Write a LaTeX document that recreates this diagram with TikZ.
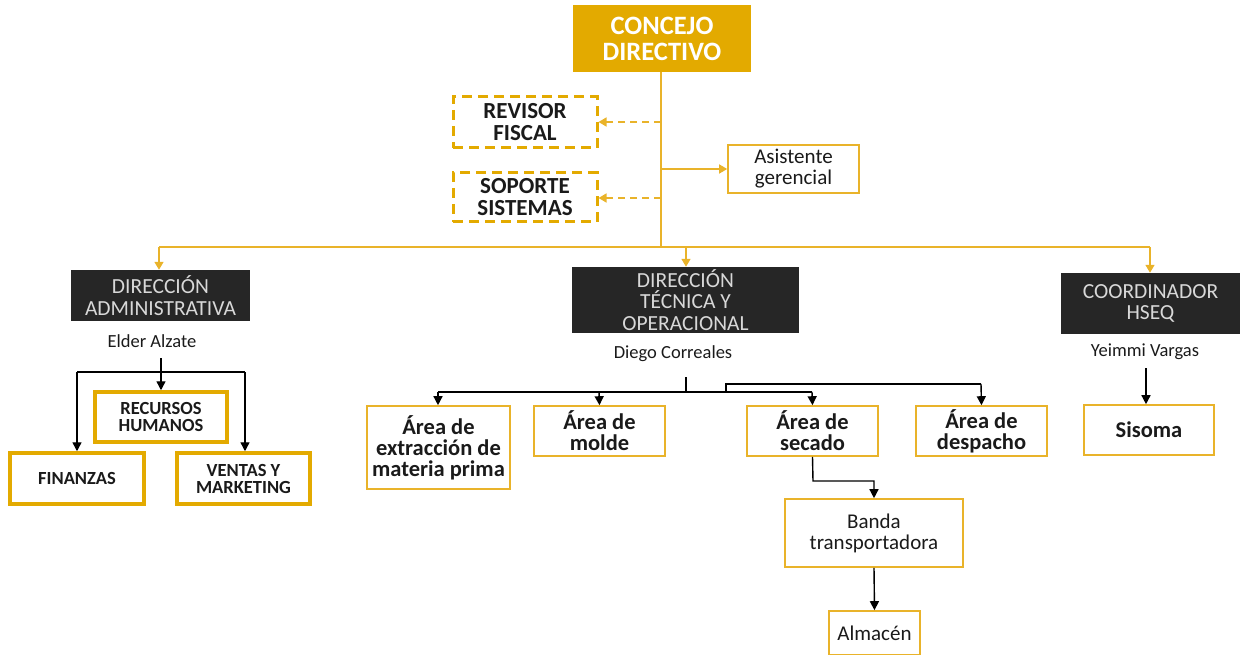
\documentclass[tikz,border=0pt]{standalone}
\usepackage{fontspec}
\setmainfont{Carlito}
\usetikzlibrary{arrows.meta}
\definecolor{gold}{HTML}{E3AA00}
\definecolor{goldln}{HTML}{E9B32A}
\definecolor{darkbox}{HTML}{262626}
\definecolor{lighttxt}{HTML}{D8D8D8}
\definecolor{txt}{HTML}{1A1A1A}
\tikzset{
  box/.style={draw=goldln, line width=1.6pt, fill=white, align=center, inner sep=0pt, text=txt},
  thickbox/.style={draw=gold, line width=3.5pt, fill=white, align=center, inner sep=0pt, text=txt, font=\fontsize{18.5}{17}\selectfont\bfseries},
  dashbox/.style={draw=gold, line width=3pt, dash pattern=on 10pt off 6pt, fill=white, align=center, inner sep=0pt, text=txt, font=\fontsize{23}{22}\selectfont\bfseries},
  darkb/.style={fill=darkbox, draw=none, align=center, inner sep=0pt, text=lighttxt, font=\fontsize{21.5}{21.5}\selectfont},
  area/.style={box, font=\fontsize{22.5}{21}\selectfont\bfseries},
  gline/.style={draw=goldln, line width=1.5pt},
  garrow/.style={gline, -{Triangle[length=8pt,width=9pt]}},
  gdash/.style={gline, dash pattern=on 7pt off 5pt, -{Triangle[length=8pt,width=9pt]}},
  barrow/.style={draw=black, line width=1.4pt, -{Triangle[length=9pt,width=9pt]}},
  bline/.style={draw=black, line width=1.4pt},
  person/.style={text=txt, font=\fontsize{18.5}{20}\selectfont, inner sep=0pt}
}
\begin{document}
\begin{tikzpicture}[x=1pt,y=-1pt]
\useasboundingbox (0,0) rectangle (1240,655);
% top
\node[fill=gold, minimum width=178pt, minimum height=67pt, align=center, inner sep=0pt, text=white, font=\fontsize{26.5}{26}\selectfont\bfseries] (cd) at (662,38.5) {CONCEJO\\DIRECTIVO};
\node[dashbox, minimum width=144pt, minimum height=51pt] (rf) at (525,122.5) {REVISOR\\FISCAL};
\node[dashbox, minimum width=144pt, minimum height=49pt] (ss) at (525,197.5) {SOPORTE\\SISTEMAS};
\node[box, minimum width=131pt, minimum height=48pt, font=\fontsize{21}{21}\selectfont] (ag) at (793.5,169) {Asistente\\gerencial};
\coordinate (t1) at (661,122);
\coordinate (t2) at (661,169);
\coordinate (t3) at (661,198);
\coordinate (hb) at (661,247);
\draw[gline] (cd.south -| hb) -- (hb);
\draw[gdash] (t1) -- (rf.east |- t1);
\draw[gdash] (t3) -- (ss.east |- t3);
\draw[garrow] (t2) -- (ag.west |- t2);
% level 2
\node[darkb, minimum width=179pt, minimum height=51pt] (da) at (160.5,295.5) {DIRECCIÓN\\ADMINISTRATIVA};
\node[darkb, minimum width=227pt, minimum height=66pt] (dt) at (685.5,300) {DIRECCIÓN\\TÉCNICA Y\\OPERACIONAL};
\node[darkb, minimum width=179pt, minimum height=61pt] (ch) at (1150.5,303.5) {COORDINADOR\\HSEQ};
\coordinate (hl) at (159,247);
\coordinate (hr) at (1150,247);
\coordinate (hm) at (686,247);
\draw[gline] (hl) -- (hr);
\draw[garrow] (hl) -- (da.north -| hl);
\draw[garrow] (hm) -- (dt.north -| hm);
\draw[garrow] (hr) -- (ch.north -| hr);
\node[person] (ea) at (152,341) {Elder Alzate};
\node[person] (dc) at (673,354) {Diego Correales};
\node[person] (yv) at (1145,352) {Yeimmi Vargas};
% admin
\node[thickbox, minimum width=132pt, minimum height=50pt] (rh) at (161,417) {RECURSOS\\HUMANOS};
\node[thickbox, minimum width=134pt, minimum height=51pt] (fi) at (77,478.5) {FINANZAS};
\node[thickbox, minimum width=133pt, minimum height=51pt] (vm) at (243.5,478.5) {VENTAS Y\\MARKETING};
\coordinate (a0) at (161,358);
\coordinate (al) at (77,372);
\coordinate (ar) at (245,372);
\draw[barrow] (a0) -- (rh.north);
\draw[bline] (al) -- (ar);
\draw[barrow] (al) -- (al |- fi.north);
\draw[barrow] (ar) -- (ar |- vm.north);
% tecnica
\node[area, minimum width=143pt, minimum height=83pt] (ex) at (438.5,447.5) {Área de\\extracción de\\materia prima};
\node[area, minimum width=131pt, minimum height=50pt] (mo) at (599.5,431) {Área de\\molde};
\node[area, minimum width=131pt, minimum height=50pt] (se) at (812.5,431) {Área de\\secado};
\node[area, minimum width=131pt, minimum height=50pt] (de) at (981.5,431) {Área de\\despacho};
\node[area, minimum width=130pt, minimum height=50pt] (si) at (1149,430) {Sisoma};
\node[box, minimum width=178pt, minimum height=68pt, font=\fontsize{21}{21}\selectfont] (bt) at (874,533) {Banda\\transportadora};
\node[box, minimum width=91pt, minimum height=44pt, font=\fontsize{21}{21}\selectfont] (al2) at (874.5,633) {Almacén};
\coordinate (d0) at (686,377);
\coordinate (d1) at (686,392);
\coordinate (dl) at (438,392);
\coordinate (dr) at (812,392);
\coordinate (dk) at (726,392);
\coordinate (dk2) at (726,384);
\coordinate (du) at (981,384);
\draw[bline] (d0) -- (d1);
\draw[bline] (dl) -- (dr);
\draw[bline] (dk) -- (dk2) -- (du);
\draw[barrow] (dl) -- (dl |- ex.north);
\draw[barrow] (599,392) -- (mo.north);
\draw[barrow] (dr) -- (se.north);
\draw[barrow] (du) -- (de.north);
\coordinate (s1) at (813,481);
\coordinate (s2) at (874,481);
\draw[barrow] (se.south) -- (s1) -- (s2) -- (bt.north);
\draw[barrow] (bt.south) -- (al2.north);
\coordinate (y0) at (1146,368);
\draw[barrow] (y0) -- (si.north -| y0);
\end{tikzpicture}
\end{document}
